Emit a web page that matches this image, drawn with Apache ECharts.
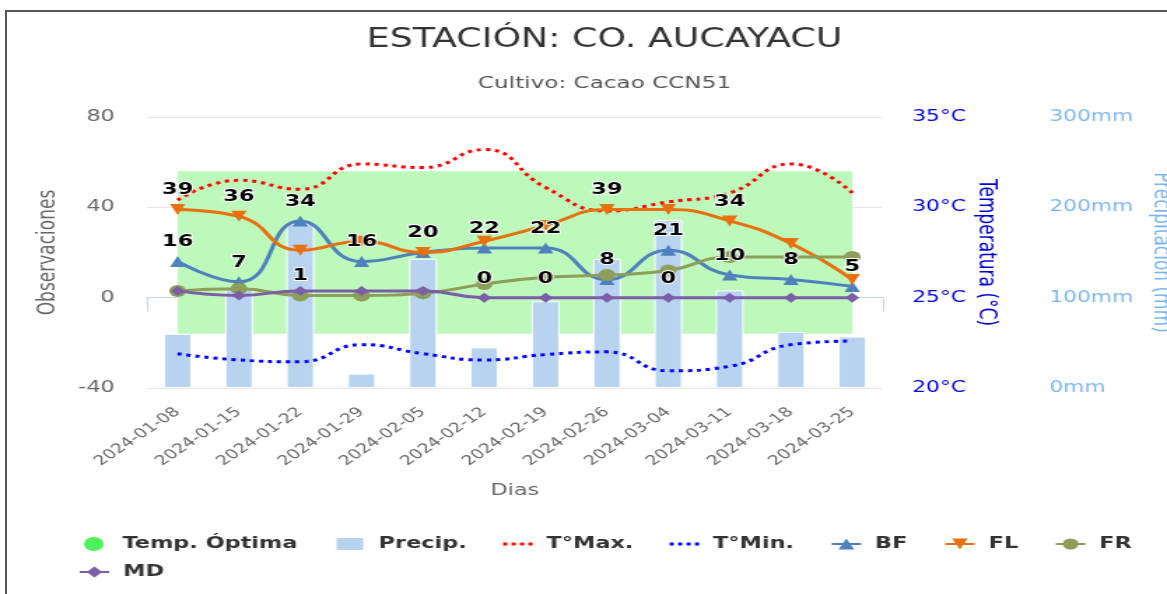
<!DOCTYPE html>
<html>
<head>
<meta charset="utf-8">
<title>Estación Co. Aucayacu</title>
<script src="https://cdn.jsdelivr.net/npm/echarts@6/dist/echarts.min.js"></script>
<style>
  html, body { margin: 0; padding: 0; background: #fff; overflow: hidden; width: 1167px; height: 594px; }
  /* marco del recorte original (solo borde superior e izquierdo visibles) */
  #marco { position: absolute; left: 5px; top: 10px; width: 1400px; height: 800px;
           border-top: 2px solid #555; border-left: 2px solid #555; }
  /* la captura original está estirada en horizontal (~1.4x) */
  #chart { position: absolute; left: 0; top: 0; width: 834px; height: 594px;
           transform: scaleX(1.3993); transform-origin: 0 0; }
</style>
</head>
<body>
<div id="marco"></div>
<div id="chart"></div>
<script>
// ==================== datos ====================
const fechas = ['2024-01-08', '2024-01-15', '2024-01-22', '2024-01-29', '2024-02-05', '2024-02-12',
                '2024-02-19', '2024-02-26', '2024-03-04', '2024-03-11', '2024-03-18', '2024-03-25'];
const precip = [60, 110, 182, 16, 143, 45, 96, 143, 186, 108, 62, 57];
const tMax = [30.4, 31.5, 31.0, 32.4, 32.2, 33.2, 31.1, 29.8, 30.3, 30.8, 32.4, 30.8];
const tMin = [21.9, 21.55, 21.45, 22.4, 21.9, 21.55, 21.85, 22.0, 20.95, 21.2, 22.4, 22.6];
const bf = [16, 7, 34, 16, 20, 22, 22, 8, 21, 10, 8, 5];
const fl = [39, 36, 21, 25, 20, 25, 32, 39, 39, 34, 24, 8];
const fr = [3, 4, 1, 1, 2, 6, 9, 10, 12, 18, 18, 18];
const md = [3, 1, 3, 3, 3, 0, 0, 0, 0, 0, 0, 0];
const tempOptMin = 23;
const tempOptMax = 32;

// etiquetas que se ven en el gráfico (las demás quedaban ocultas por solaparse)
const bfEtiq = [1, 1, 1, 1, 1, 1, 1, 1, 1, 1, 1, 1];
const flEtiq = [1, 1, 0, 0, 0, 0, 0, 1, 0, 1, 0, 0];
const frEtiq = [0, 0, 1, 0, 0, 0, 0, 0, 0, 0, 0, 0];
const mdEtiq = [0, 0, 0, 0, 0, 1, 1, 0, 1, 0, 0, 0];

const FUENTE = 'DejaVu Sans';
// icono punteado para la leyenda de T°Max / T°Min
const ICONO_PUNTOS = 'path://M0,0h3v3h-3z M6.2,0h3v3h-3z M12.4,0h3v3h-3z M18.6,0h3v3h-3z';

function conEtiquetas(valores, mostrar) {
  return valores.map((v, i) => ({ value: v, label: { show: !!mostrar[i] } }));
}

const estiloEtiqueta = {
  show: false,
  position: 'top',
  distance: 6,
  color: '#000',
  fontFamily: FUENTE,
  fontWeight: 'bold',
  fontSize: 16,
  textBorderColor: '#fff',
  textBorderWidth: 2
};

// serie visible (línea + marcador)
function serieObs(nombre, color, simbolo, tam, valores, z, rot) {
  return {
    name: nombre,
    type: 'line',
    yAxisIndex: 0,
    smooth: true,
    z: z,
    symbol: simbolo,
    symbolSize: tam,
    symbolRotate: rot || 0,
    lineStyle: { color: color, width: 3 },
    itemStyle: { color: color },
    data: valores
  };
}

// capa de etiquetas por encima de todas las líneas
function serieEtiquetas(nombre, tam, valores, mostrar) {
  return {
    name: nombre + '-etiquetas',
    type: 'line',
    yAxisIndex: 0,
    z: 20,
    silent: true,
    legendHoverLink: false,
    smooth: true,
    symbol: 'circle',
    symbolSize: tam,
    itemStyle: { color: 'rgba(0,0,0,0)' },
    lineStyle: { width: 0, opacity: 0 },
    label: estiloEtiqueta,
    data: conEtiquetas(valores, mostrar)
  };
}

const estiloLeyenda = { fontFamily: FUENTE, fontWeight: 'bold', fontSize: 16, color: '#333', padding: [0, 0, 0, 5] };

const chart = echarts.init(document.getElementById('chart'));

chart.setOption({
  animation: false,
  backgroundColor: 'transparent',
  title: [
    {
      text: 'ESTACIÓN: CO. AUCAYACU',
      left: 432, top: 27, textAlign: 'center', padding: 0,
      textStyle: { fontFamily: FUENTE, fontSize: 26, fontWeight: 'normal', color: '#333' }
    },
    {
      text: 'Cultivo: Cacao CCN51',
      left: 432, top: 75, textAlign: 'center', padding: 0,
      textStyle: { fontFamily: FUENTE, fontSize: 16.5, fontWeight: 'normal', color: '#555' }
    }
  ],
  legend: [
    {
      left: 60, top: 536, padding: 0,
      itemWidth: 21, itemHeight: 14, itemGap: 26,
      textStyle: estiloLeyenda,
      data: [
        { name: 'Temp. Óptima', icon: 'circle' },
        { name: 'Precip.', icon: 'rect' },
        { name: 'T°Max.', icon: ICONO_PUNTOS },
        { name: 'T°Min.', icon: ICONO_PUNTOS },
        'BF', 'FL', 'FR'
      ]
    },
    {
      left: 56, top: 564, padding: 0,
      itemWidth: 21, itemHeight: 14,
      textStyle: estiloLeyenda,
      data: ['MD']
    }
  ],
  grid: {
    left: 105, right: 203, top: 117, bottom: 206,
    outerBoundsMode: 'none'
  },
  xAxis: {
    type: 'category',
    data: fechas,
    name: 'Dias',
    nameLocation: 'middle',
    nameGap: 95,
    nameTextStyle: { fontFamily: FUENTE, fontSize: 16, color: '#666' },
    axisLine: { lineStyle: { color: '#ccd6eb', width: 1 } },
    axisTick: { show: true, length: 14, lineStyle: { color: '#ccd6eb' } },
    axisLabel: { rotate: 43, fontFamily: FUENTE, fontSize: 13.5, color: '#666', margin: 22, interval: 0 },
    splitLine: { show: false }
  },
  yAxis: [
    {
      type: 'value', position: 'left',
      min: -40, max: 80, interval: 40,
      name: 'Observaciones', nameLocation: 'middle', nameGap: 62, nameMoveOverlap: false,
      nameTextStyle: { fontFamily: FUENTE, fontSize: 17, color: '#666' },
      axisLine: { show: false }, axisTick: { show: false },
      axisLabel: { fontFamily: FUENTE, fontSize: 16, color: '#666', margin: 23 },
      splitLine: { lineStyle: { color: '#e6e6e6' } }
    },
    {
      type: 'value', position: 'right',
      min: 20, max: 35, interval: 5,
      name: 'Temperatura (°C)', nameLocation: 'middle', nameGap: 65, nameRotate: -90, nameMoveOverlap: false,
      nameTextStyle: { fontFamily: FUENTE, fontSize: 17, color: '#0000cc' },
      axisLine: { show: false }, axisTick: { show: false },
      axisLabel: { formatter: '{value}°C', fontFamily: FUENTE, fontSize: 15.5, color: '#0000dd', margin: 21 },
      splitLine: { show: false }
    },
    {
      type: 'value', position: 'right', offset: 98,
      min: 0, max: 300, interval: 100,
      name: 'Precipitación (mm)', nameLocation: 'middle', nameGap: 92, nameRotate: -90, nameMoveOverlap: false,
      nameTextStyle: { fontFamily: FUENTE, fontSize: 17, color: '#7cb5ec' },
      axisLine: { show: false }, axisTick: { show: false },
      axisLabel: { formatter: '{value}mm', fontFamily: FUENTE, fontSize: 15.5, color: '#7cb5ec', margin: 21 },
      splitLine: { show: false }
    }
  ],
  series: [
    {
      // franja de temperatura óptima
      name: 'Temp. Óptima',
      type: 'scatter',
      yAxisIndex: 1,
      z: 1,
      itemStyle: { color: '#22ee33' },
      data: [],
      markArea: {
        silent: true,
        itemStyle: { color: '#bdf9bb' },
        data: [[
          { xAxis: fechas[0], yAxis: tempOptMax },
          { xAxis: fechas[fechas.length - 1], yAxis: tempOptMin }
        ]]
      }
    },
    {
      name: 'Precip.',
      type: 'bar',
      yAxisIndex: 2,
      z: 2,
      barWidth: 20,
      itemStyle: { color: '#b7d3ef', borderColor: '#fff', borderWidth: 1 },
      data: precip
    },
    {
      name: 'T°Max.',
      type: 'line',
      yAxisIndex: 1,
      z: 3,
      smooth: true,
      symbol: 'none',
      lineStyle: { color: '#ff0000', width: 3, type: [3, 3.5] },
      itemStyle: { color: '#ff0000' },
      data: tMax
    },
    {
      name: 'T°Min.',
      type: 'line',
      yAxisIndex: 1,
      z: 3,
      smooth: true,
      symbol: 'none',
      lineStyle: { color: '#0000ff', width: 3, type: [3, 3.5] },
      itemStyle: { color: '#0000ff' },
      data: tMin
    },
    serieObs('BF', '#4f81bd', 'triangle', 11, bf, 4),
    serieObs('FL', '#e8700f', 'triangle', 11, fl, 5, 180),
    serieObs('FR', '#8d9e58', 'circle', 12, fr, 6),
    serieObs('MD', '#7b5ea7', 'diamond', 10, md, 7),
    serieEtiquetas('BF', 11, bf, bfEtiq),
    serieEtiquetas('FL', 11, fl, flEtiq),
    serieEtiquetas('FR', 12, fr, frEtiq),
    serieEtiquetas('MD', 10, md, mdEtiq)
  ]
});
</script>
</body>
</html>
